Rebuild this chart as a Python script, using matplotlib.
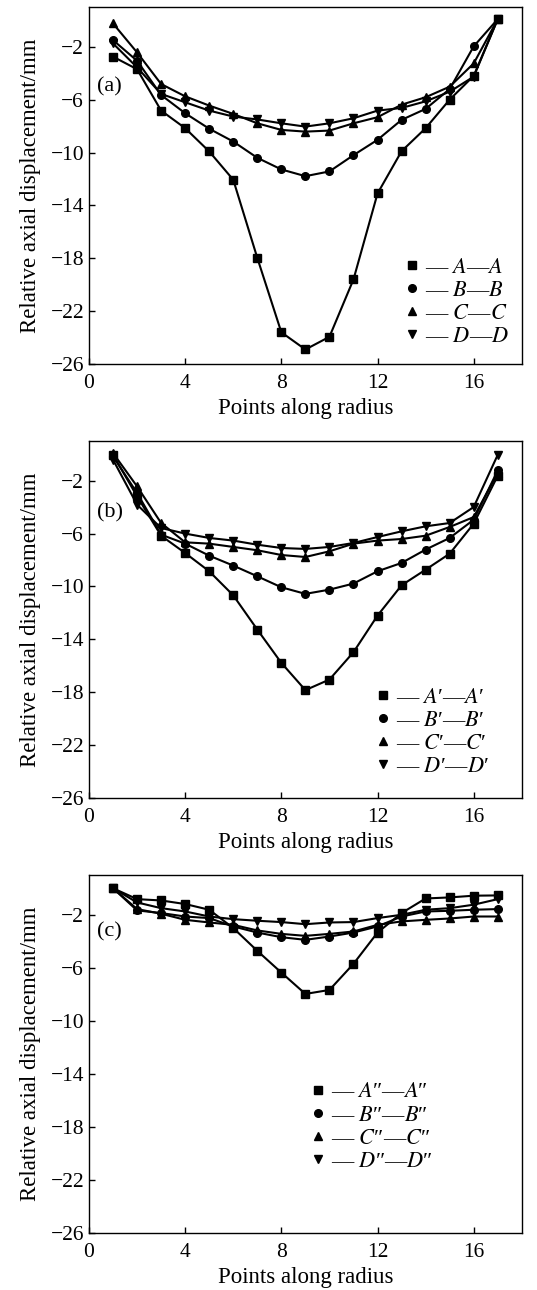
import matplotlib
matplotlib.use("Agg")
import matplotlib.pyplot as plt
from matplotlib.lines import Line2D

plt.rcParams['font.family'] = ['Liberation Serif', 'DejaVu Serif']
plt.rcParams['mathtext.fontset'] = 'stix'

points = list(range(1, 18))

# panel (a)
a_AA = [-2.75, -3.7, -6.83, -8.16, -9.92, -12.06, -17.97, -23.6, -24.9, -23.94, -19.6, -13.1, -9.9, -8.16, -6.0, -4.2, 0.09]
a_BB = [-1.5, -3.06, -5.65, -7.03, -8.2, -9.17, -10.4, -11.28, -11.79, -11.43, -10.2, -9.04, -7.53, -6.7, -5.2, -1.97, 0.09]
a_CC = [-0.24, -2.43, -4.82, -5.75, -6.45, -7.08, -7.79, -8.29, -8.42, -8.34, -7.79, -7.33, -6.38, -5.82, -5.02, -3.26, 0.09]
a_DD = [-1.75, -3.56, -5.57, -6.2, -6.83, -7.28, -7.5, -7.79, -8.04, -7.79, -7.41, -6.83, -6.63, -6.13, -5.4, -4.26, 0.09]

# panel (b)
b_AA = [-0.04, -3.18, -6.16, -7.47, -8.85, -10.67, -13.26, -15.78, -17.84, -17.04, -14.97, -12.2, -9.91, -8.73, -7.52, -5.25, -1.62]
b_BB = [-0.16, -2.93, -6.08, -6.76, -7.67, -8.42, -9.23, -10.06, -10.56, -10.24, -9.78, -8.85, -8.22, -7.21, -6.33, -4.95, -1.22]
b_CC = [0.09, -2.43, -5.2, -6.66, -6.76, -7.01, -7.26, -7.62, -7.77, -7.34, -6.76, -6.53, -6.41, -6.16, -5.5, -4.75, -1.42]
b_DD = [-0.41, -3.81, -5.58, -6.0, -6.33, -6.53, -6.84, -7.09, -7.16, -7.01, -6.71, -6.26, -5.83, -5.45, -5.2, -3.99, -0.04]

# panel (c)
c_AA = [0.0, -0.82, -0.92, -1.19, -1.62, -3.0, -4.72, -6.36, -7.97, -7.67, -5.7, -3.34, -1.87, -0.77, -0.69, -0.56, -0.54]
c_BB = [0.0, -1.67, -1.87, -2.13, -2.25, -2.88, -3.34, -3.69, -3.89, -3.64, -3.34, -2.88, -2.13, -1.75, -1.7, -1.62, -1.57]
c_CC = [0.0, -1.57, -1.92, -2.38, -2.58, -2.76, -3.18, -3.44, -3.59, -3.44, -3.26, -2.76, -2.5, -2.38, -2.28, -2.13, -2.13]
c_DD = [0.0, -1.07, -1.5, -1.75, -2.13, -2.33, -2.45, -2.55, -2.71, -2.58, -2.55, -2.25, -2.0, -1.62, -1.5, -1.24, -0.82]

labels_a = ['— $A$—$A$', '— $B$—$B$', '— $C$—$C$', '— $D$—$D$']
labels_b = ['— $A$\u2032—$A$\u2032', '— $B$\u2032—$B$\u2032', '— $C$\u2032—$C$\u2032', '— $D$\u2032—$D$\u2032']
labels_c = ['— $A$\u2033—$A$\u2033', '— $B$\u2033—$B$\u2033', '— $C$\u2033—$C$\u2033', '— $D$\u2033—$D$\u2033']

yticks = [-2, -6, -10, -14, -18, -22, -26]
xticks = [0, 4, 8, 12, 16]
markers = ['s', 'o', '^', 'v']

fig = plt.figure(figsize=(5.37, 12.9), dpi=100)

panels = [
    ([a_AA, a_BB, a_CC, a_DD], labels_a, '(a)', [0.1657, 0.7178, 0.806, 0.2767], 0.776, (0.731, 0.30)),
    ([b_AA, b_BB, b_CC, b_DD], labels_b, '(b)', [0.1657, 0.3814, 0.806, 0.2767], 0.80, (0.664, 0.311)),
    ([c_AA, c_BB, c_CC, c_DD], labels_c, '(c)', [0.1657, 0.0442, 0.806, 0.2775], 0.84, (0.514, 0.422)),
]

for series, labs, tag, rect, tag_y, leg_pos in panels:
    ax = fig.add_axes(rect)
    for ys, m in zip(series, markers):
        ax.plot(points, ys, color='black', lw=1.5, marker=m, ms=5.5)
    ax.set_xlim(0, 18)
    ax.set_ylim(-26, 1)
    ax.set_xticks(xticks)
    ax.set_yticks(yticks)
    ax.set_yticklabels(['\u2212' + str(abs(t)) for t in yticks])
    ax.tick_params(direction='in', labelsize=15.5, length=4, width=1)
    ax.tick_params(axis='x', pad=7)
    ax.set_xlabel('Points along radius', fontsize=16.5, labelpad=4)
    ax.set_ylabel('Relative axial displacement/mm', fontsize=16.5, labelpad=7)
    for sp in ax.spines.values():
        sp.set_linewidth(1.0)
    ax.text(0.019, tag_y, tag, transform=ax.transAxes, fontsize=16, va='center')
    handles = [Line2D([], [], color='black', marker=m, ls='none', ms=5.5) for m in markers]
    ax.legend(handles, labs, loc='upper left', bbox_to_anchor=leg_pos, frameon=False,
              fontsize=16, handlelength=0.6, handletextpad=0.3, labelspacing=0.12,
              borderpad=0, borderaxespad=0)

fig.savefig('out.png', dpi=100)
